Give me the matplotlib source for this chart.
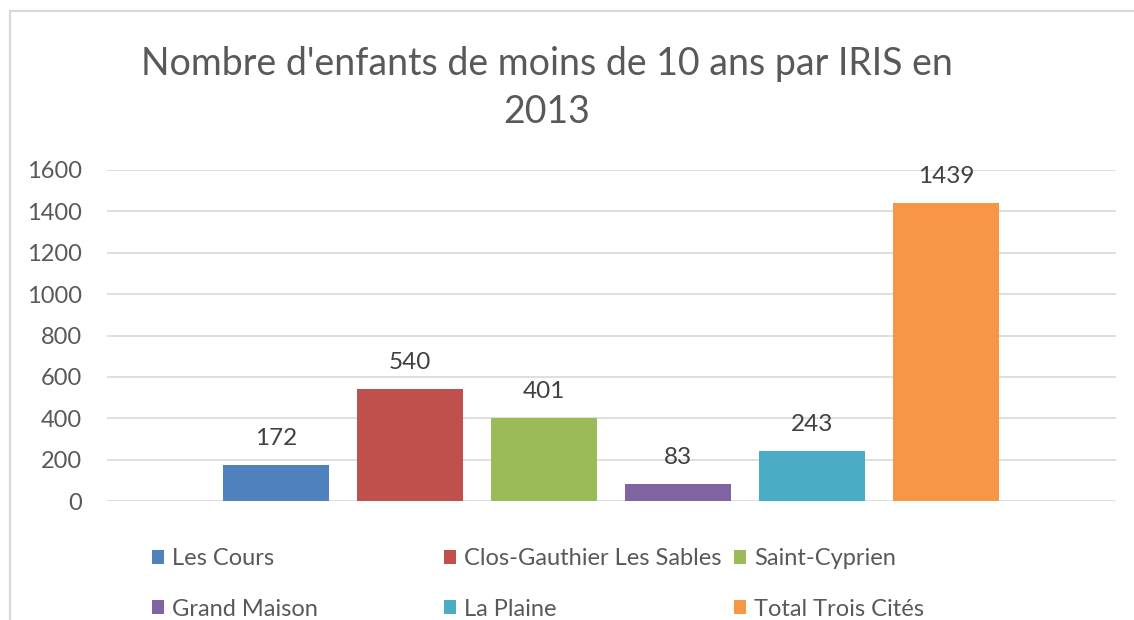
import matplotlib
matplotlib.use("Agg")
import matplotlib.pyplot as plt
from matplotlib.patches import Rectangle, Patch

plt.rcParams["font.family"] = ["Lato", "DejaVu Sans"]

# data
categories = ["Les Cours", "Clos-Gauthier Les Sables", "Saint-Cyprien",
              "Grand Maison", "La Plaine", "Total Trois Cités"]
values = [172, 540, 401, 83, 243, 1439]
colors = ["#4F81BD", "#C0504D", "#9BBB59", "#8064A2", "#4BACC6", "#F79646"]
yticks = [0, 200, 400, 600, 800, 1000, 1200, 1400, 1600]
title = "Nombre d'enfants de moins de 10 ans par IRIS en\n2013"

text_col = "#595959"
grid_col = "#D9D9D9"

W, H = 1134, 620
fig = plt.figure(figsize=(W / 100, H / 100), dpi=100)
fig.patch.set_facecolor("white")

# chart frame (only top and left visible in the crop)
fig.patches.append(Rectangle((10 / W, -0.05), 1.1, 1 - 11 / H + 0.05,
                             transform=fig.transFigure, fill=False,
                             edgecolor=grid_col, linewidth=1.6))

ax = fig.add_axes([107 / W, 1 - 501 / H, (1116 - 107) / W, (501 - 170) / H])

x = list(range(len(values)))
bars = ax.bar(x, values, width=0.79, color=colors, zorder=3)
for rect, v in zip(bars, values):
    ax.annotate(str(v), (rect.get_x() + rect.get_width() / 2, v),
                xytext=(0, 11.5), textcoords="offset points",
                ha="center", va="bottom", fontsize=17.5, color="#404040")

ax.set_xlim(-1.26, 6.27)
ax.set_ylim(0, 1600)
ax.set_yticks(yticks)
ax.set_xticks([])
ax.tick_params(axis="y", length=0, labelsize=17, labelcolor=text_col, pad=18)
ax.grid(axis="y", color=grid_col, linewidth=1.2, zorder=0)
for s in ax.spines.values():
    s.set_visible(False)

fig.text(547 / W, 1 - 46 / H, title, ha="center", va="top",
         fontsize=27, color=text_col, linespacing=1.42)

# legend: three columns, two rows (row-wise order like the source)
col_x = [152 / W, 444 / W, 734 / W]
for c in range(3):
    idx = [c, c + 3]
    handles = [Patch(facecolor=colors[i], edgecolor="none") for i in idx]
    fig.legend(handles, [categories[i] for i in idx],
               loc="upper left", bbox_to_anchor=(col_x[c], 1 - 548 / H),
               frameon=False, fontsize=17, labelcolor=text_col,
               handlelength=0.52, handleheight=0.52, handletextpad=0.34,
               labelspacing=1.26, borderpad=0, borderaxespad=0)

fig.savefig("out.png", dpi=100)
